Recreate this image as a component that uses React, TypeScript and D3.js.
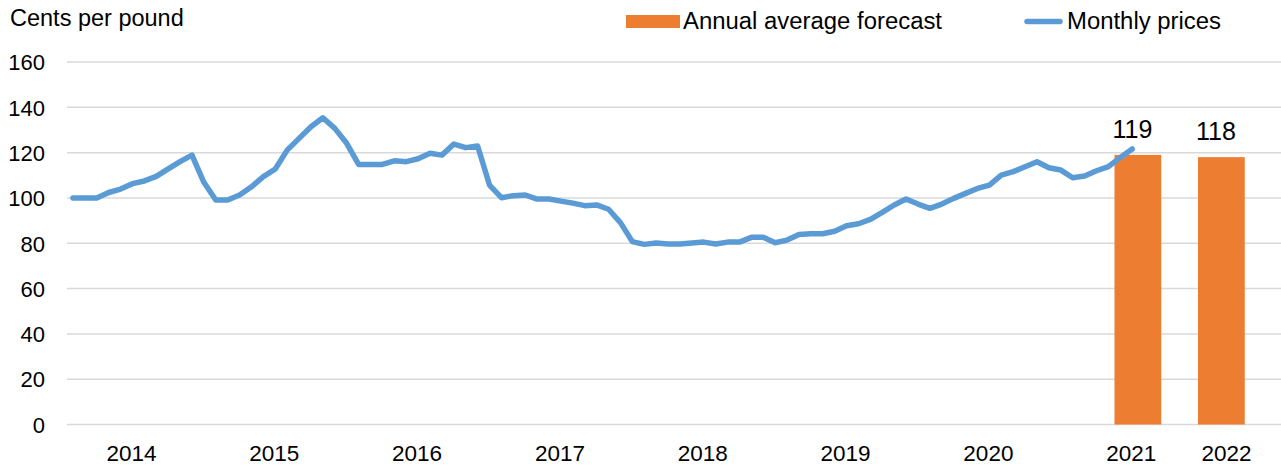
import React from "react";
import * as d3 from "d3";

// Monthly prices, Jan 2014 – Jun 2021 (cents per pound)
const monthlyPrices: number[] = [
  100, 100, 100, 102.4, 103.9, 106.3, 107.5, 109.5, 112.8, 116, 118.9, 106.9,
  99.1, 99.1, 101.3, 104.9, 109.4, 112.8, 121.1, 126.3, 131.4, 135.4, 130.7, 124.1,
  114.8, 114.8, 114.8, 116.4, 116, 117.3, 119.7, 118.9, 123.8, 122.2, 122.9, 105.7,
  100.1, 101, 101.3, 99.5, 99.5, 98.6, 97.7, 96.6, 96.9, 95, 89.1, 80.7,
  79.5, 80.1, 79.7, 79.7, 80.1, 80.5, 79.7, 80.5, 80.5, 82.6, 82.6, 80.2,
  81.4, 83.9, 84.2, 84.2, 85.3, 87.7, 88.6, 90.5, 93.6, 96.9, 99.5, 97.3,
  95.4, 97.3, 99.8, 102, 104.2, 105.7, 110.1, 111.6, 113.8, 116, 113.3, 112.3,
  108.9, 109.7, 112, 113.8, 117.9, 121.6,
];

// Annual average forecast
const forecastYears: string[] = ["2021", "2022"];
const forecastValues: number[] = [119, 118];

// Axis labels
const yearLabels: string[] = ["2014", "2015", "2016", "2017", "2018", "2019", "2020", "2021", "2022"];
const yearLabelCategory: number[] = [5, 17, 29, 41, 53, 65, 77, 89, 97];
const yTicks: number[] = [0, 20, 40, 60, 80, 100, 120, 140, 160];

const W = 1281;
const H = 467;
const FONT = "'Liberation Sans', Arial, Helvetica, sans-serif";
const LINE_COLOR = "#5B9BD5";
const BAR_COLOR = "#ED7D31";
const GRID_COLOR = "#D9D9D9";

export default function App() {
  const plotLeft = 67;
  const plotRight = 1281;
  const nCategories = 102;

  const x = d3.scaleLinear().domain([0, nCategories]).range([plotLeft, plotRight]);
  const xc = (i: number) => x(i + 0.5);
  const y = d3.scaleLinear().domain([0, 160]).range([424.5, 62]);

  const xBar = d3
    .scaleBand<string>()
    .domain(forecastYears)
    .range([1072.75, 1286.5])
    .paddingInner(0.44)
    .paddingOuter(0.5);

  const line = d3
    .line<number>()
    .x((_, i) => xc(i))
    .y((d) => y(d));

  return (
    <svg
      width={W}
      height={H}
      style={{ position: "absolute", left: 0, top: 0, display: "block", background: "#fff" }}
      fontFamily={FONT}
    >
      {/* Gridlines */}
      {yTicks.map((t) => (
        <line
          key={"g" + t}
          x1={plotLeft}
          x2={plotRight}
          y1={y(t)}
          y2={y(t)}
          stroke={GRID_COLOR}
          strokeWidth={1.5}
        />
      ))}
      {/* Y tick labels */}
      {yTicks.map((t) => (
        <text key={"yt" + t} x={45} y={y(t) + 8.3} fontSize={22} textAnchor="end" fill="#000">
          {t}
        </text>
      ))}
      {/* Y axis title */}
      <text x={10} y={26} fontSize={23.5} fill="#000">
        Cents per pound
      </text>

      {/* Bars */}
      {forecastYears.map((yr, i) => (
        <rect
          key={"b" + yr}
          x={xBar(yr)!}
          y={y(forecastValues[i])}
          width={xBar.bandwidth()}
          height={y(0) - y(forecastValues[i])}
          fill={BAR_COLOR}
        />
      ))}
      {/* Bar labels */}
      {forecastYears.map((yr, i) => (
        <text
          key={"bl" + yr}
          x={xBar(yr)! + xBar.bandwidth() / 2 - 5.5}
          y={y(forecastValues[i]) - 17}
          fontSize={25}
          textAnchor="middle"
          fill="#000"
        >
          {forecastValues[i]}
        </text>
      ))}

      {/* Monthly line */}
      <path
        d={line(monthlyPrices) || ""}
        fill="none"
        stroke={LINE_COLOR}
        strokeWidth={5.5}
        strokeLinejoin="round"
        strokeLinecap="round"
      />

      {/* X labels */}
      {yearLabels.map((lbl, i) => (
        <text key={"xl" + lbl} x={xc(yearLabelCategory[i]) - 1} y={461} fontSize={22.5} textAnchor="middle" fill="#000">
          {lbl}
        </text>
      ))}

      {/* Legend */}
      <rect x={626} y={15} width={54} height={13} fill={BAR_COLOR} />
      <text x={683} y={29} fontSize={23.5} textLength={259} lengthAdjust="spacingAndGlyphs" fill="#000">
        Annual average forecast
      </text>
      <line x1={1027} x2={1060} y1={21.5} y2={21.5} stroke={LINE_COLOR} strokeWidth={5.5} strokeLinecap="round" />
      <text x={1067} y={29} fontSize={23.5} textLength={154} lengthAdjust="spacingAndGlyphs" fill="#000">
        Monthly prices
      </text>
    </svg>
  );
}
